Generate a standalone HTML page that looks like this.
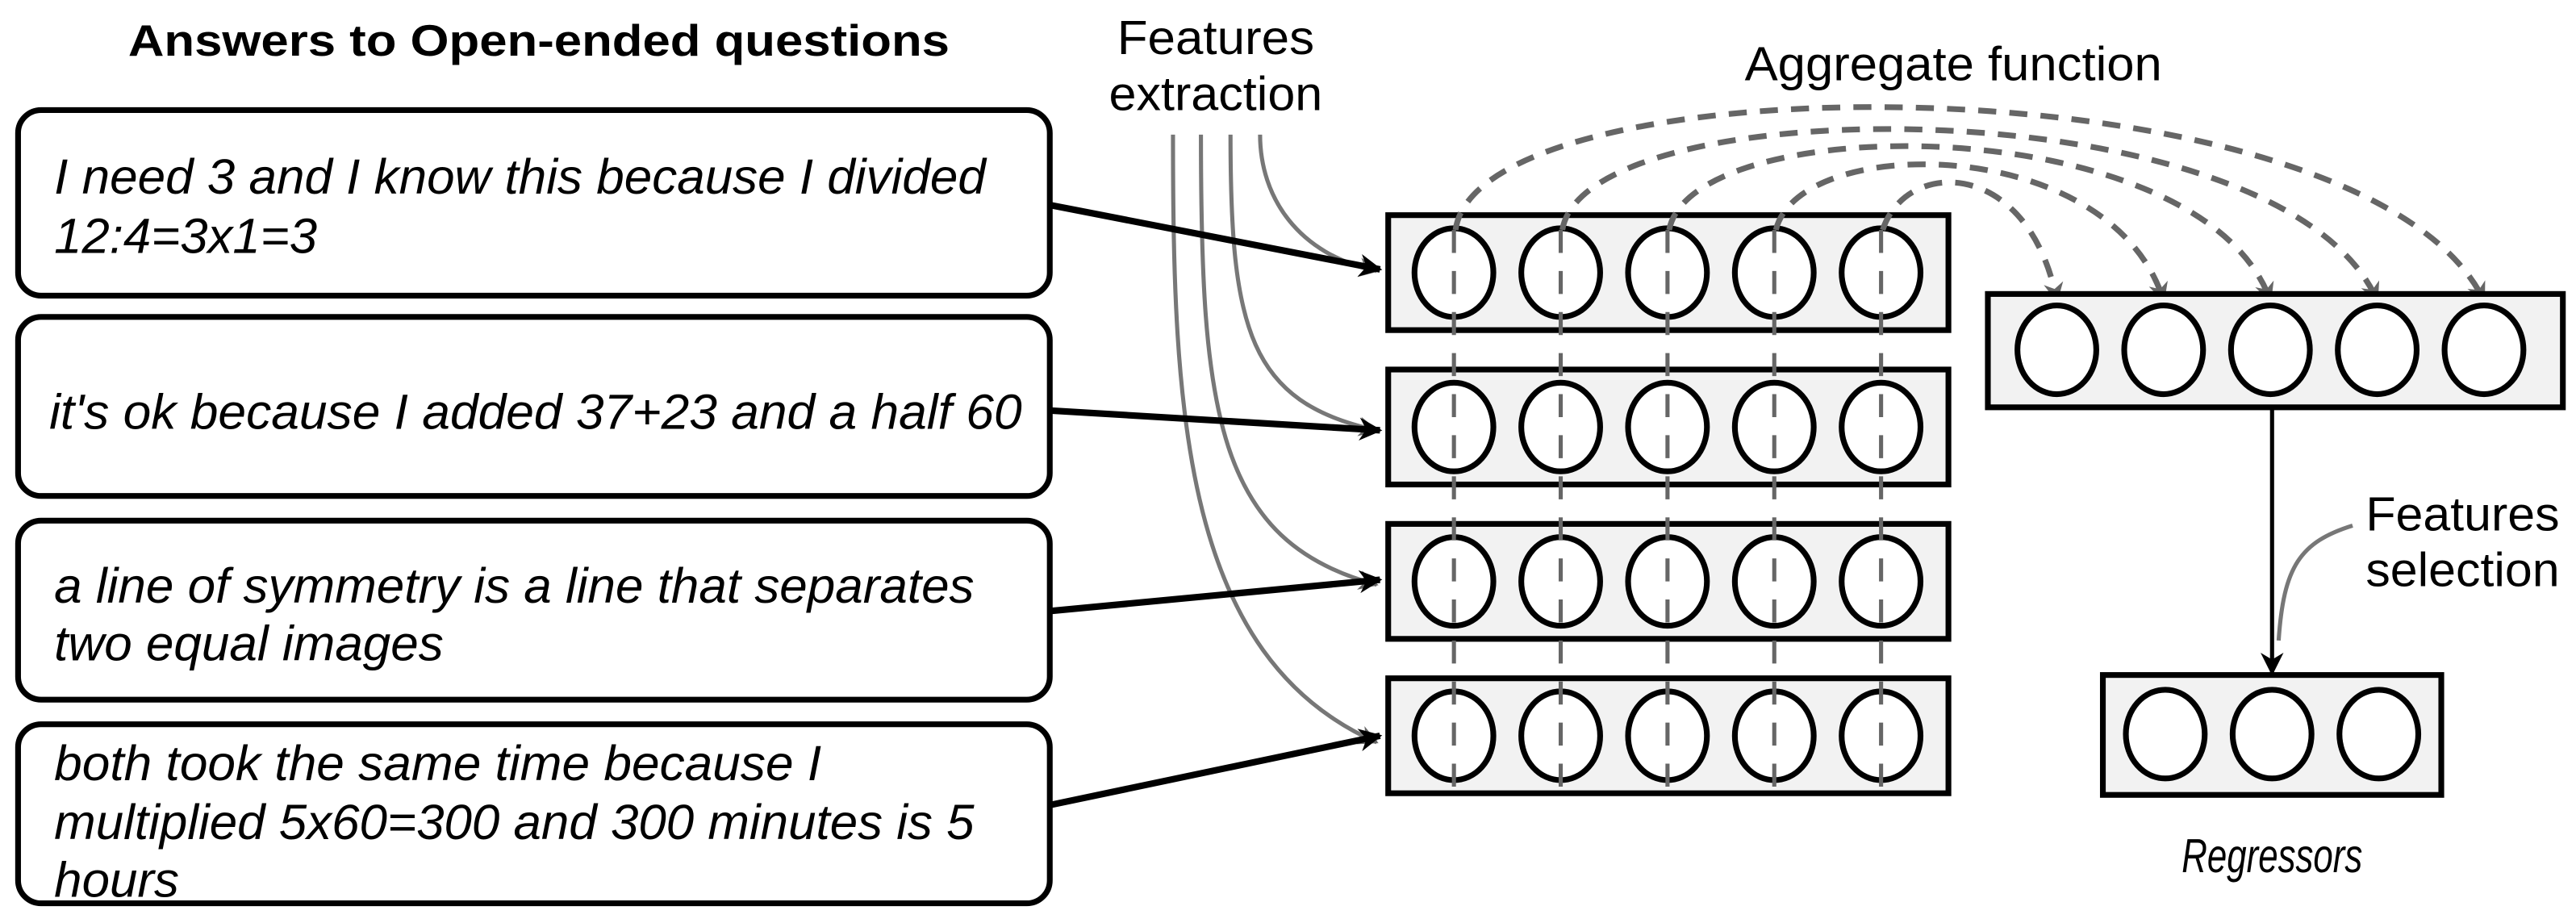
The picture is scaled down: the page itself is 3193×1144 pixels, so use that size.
<!DOCTYPE html>
<html><head><style>
html,body{margin:0;padding:0;background:#fff;}
svg{display:block;}
text{font-family:"Liberation Sans",Arial,sans-serif;}
</style></head><body>
<svg width="3193" height="1144" viewBox="0 0 1568 562" preserveAspectRatio="none" xmlns="http://www.w3.org/2000/svg">
<defs>
<marker id="abk" viewBox="0 0 10 10" refX="9" refY="5" markerWidth="18" markerHeight="14" orient="auto" markerUnits="userSpaceOnUse"><path d="M0,0 L10,5 L0,10 L3,5 Z" fill="#000"/></marker>
<marker id="ag" viewBox="0 0 10 10" refX="9" refY="5" markerWidth="14" markerHeight="12" orient="auto" markerUnits="userSpaceOnUse"><path d="M0,0 L10,5 L0,10 L3,5 Z" fill="#666"/></marker>
</defs>

<text x="78" y="34" font-size="27" font-weight="bold" textLength="500" lengthAdjust="spacingAndGlyphs">Answers to Open-ended questions</text>

<g fill="#fff" stroke="#000" stroke-width="3.5">
<rect x="11" y="67" width="628" height="113" rx="14"/>
<rect x="11" y="193" width="628" height="109" rx="14"/>
<rect x="11" y="317" width="628" height="109" rx="14"/>
<rect x="11" y="441" width="628" height="109" rx="14"/>
</g>
<g font-size="30" font-style="italic">
<text x="33" y="118" textLength="567" lengthAdjust="spacingAndGlyphs">I need 3 and I know this because I divided</text>
<text x="33" y="154" textLength="160" lengthAdjust="spacingAndGlyphs">12:4=3x1=3</text>
<text x="30" y="261" textLength="592" lengthAdjust="spacingAndGlyphs">it's ok because I added 37+23 and a half 60</text>
<text x="33" y="367" textLength="560" lengthAdjust="spacingAndGlyphs">a line of symmetry is a line that separates</text>
<text x="33" y="402" textLength="237" lengthAdjust="spacingAndGlyphs">two equal images</text>
<text x="33" y="475" textLength="467" lengthAdjust="spacingAndGlyphs">both took the same time because I</text>
<text x="33" y="511" textLength="560" lengthAdjust="spacingAndGlyphs">multiplied 5x60=300 and 300 minutes is 5</text>
<text x="33" y="546" textLength="76" lengthAdjust="spacingAndGlyphs">hours</text>
</g>

<text x="680" y="33" font-size="29" textLength="120" lengthAdjust="spacingAndGlyphs">Features</text>
<text x="675" y="67" font-size="29" textLength="130" lengthAdjust="spacingAndGlyphs">extraction</text>
<text x="1062" y="49" font-size="29" textLength="254" lengthAdjust="spacingAndGlyphs">Aggregate function</text>

<g fill="none" stroke="#777" stroke-width="2.5">
<path d="M714,82 C714,250 720,400 838,452" marker-end="url(#ag)"/>
<path d="M731,82 C731,250 740,330 838,356" marker-end="url(#ag)"/>
<path d="M749,82 C749,200 760,245 838,262" marker-end="url(#ag)"/>
<path d="M767,82 C767,120 790,155 838,165" marker-end="url(#ag)"/>
</g>

<g fill="#f2f2f2" stroke="#000" stroke-width="3.5">
<rect x="845" y="131" width="341" height="70"/>
<rect x="845" y="225" width="341" height="70"/>
<rect x="845" y="319" width="341" height="70"/>
<rect x="845" y="413" width="341" height="70"/>
</g>
<g fill="#fff" stroke="#000" stroke-width="3.5">
<ellipse cx="885" cy="166" rx="24" ry="27"/><ellipse cx="950" cy="166" rx="24" ry="27"/><ellipse cx="1015" cy="166" rx="24" ry="27"/><ellipse cx="1080" cy="166" rx="24" ry="27"/><ellipse cx="1145" cy="166" rx="24" ry="27"/>
<ellipse cx="885" cy="260" rx="24" ry="27"/><ellipse cx="950" cy="260" rx="24" ry="27"/><ellipse cx="1015" cy="260" rx="24" ry="27"/><ellipse cx="1080" cy="260" rx="24" ry="27"/><ellipse cx="1145" cy="260" rx="24" ry="27"/>
<ellipse cx="885" cy="354" rx="24" ry="27"/><ellipse cx="950" cy="354" rx="24" ry="27"/><ellipse cx="1015" cy="354" rx="24" ry="27"/><ellipse cx="1080" cy="354" rx="24" ry="27"/><ellipse cx="1145" cy="354" rx="24" ry="27"/>
<ellipse cx="885" cy="448" rx="24" ry="27"/><ellipse cx="950" cy="448" rx="24" ry="27"/><ellipse cx="1015" cy="448" rx="24" ry="27"/><ellipse cx="1080" cy="448" rx="24" ry="27"/><ellipse cx="1145" cy="448" rx="24" ry="27"/>
</g>
<g stroke="#666" stroke-width="2.5" stroke-dasharray="14,11">
<line x1="885" y1="140" x2="885" y2="480"/><line x1="950" y1="140" x2="950" y2="480"/><line x1="1015" y1="140" x2="1015" y2="480"/><line x1="1080" y1="140" x2="1080" y2="480"/><line x1="1145" y1="140" x2="1145" y2="480"/>
</g>

<g stroke="#000" stroke-width="4" fill="none">
<line x1="640" y1="125" x2="840" y2="164" marker-end="url(#abk)"/>
<line x1="640" y1="250" x2="840" y2="262" marker-end="url(#abk)"/>
<line x1="640" y1="372" x2="840" y2="353" marker-end="url(#abk)"/>
<line x1="640" y1="490" x2="840" y2="448" marker-end="url(#abk)"/>
</g>

<g fill="none" stroke="#666" stroke-width="3.5" stroke-dasharray="11,8">
<path d="M886,140 C900,34 1440,34 1512,183" marker-end="url(#ag)"/>
<path d="M951,140 C965,52 1390,52 1447,183" marker-end="url(#ag)"/>
<path d="M1016,140 C1030,66 1340,66 1382,183" marker-end="url(#ag)"/>
<path d="M1081,140 C1095,81 1285,81 1317,183" marker-end="url(#ag)"/>
<path d="M1146,140 C1160,96 1235,96 1252,183" marker-end="url(#ag)"/>
</g>

<rect x="1210" y="179" width="350" height="69" fill="#f2f2f2" stroke="#000" stroke-width="3.5"/>
<g fill="#fff" stroke="#000" stroke-width="3.5">
<ellipse cx="1252" cy="213" rx="24" ry="27"/><ellipse cx="1317" cy="213" rx="24" ry="27"/><ellipse cx="1382" cy="213" rx="24" ry="27"/><ellipse cx="1447" cy="213" rx="24" ry="27"/><ellipse cx="1512" cy="213" rx="24" ry="27"/>
</g>

<line x1="1383" y1="248" x2="1383" y2="410" stroke="#000" stroke-width="2.5" marker-end="url(#abk)"/>
<path d="M1432,320 C1400,330 1390,345 1387,390" fill="none" stroke="#777" stroke-width="2.5"/>
<text x="1440" y="323" font-size="29" textLength="118" lengthAdjust="spacingAndGlyphs">Features</text>
<text x="1440" y="357" font-size="29" textLength="118" lengthAdjust="spacingAndGlyphs">selection</text>

<rect x="1280" y="411" width="206" height="73" fill="#f2f2f2" stroke="#000" stroke-width="3.5"/>
<g fill="#fff" stroke="#000" stroke-width="3.5">
<ellipse cx="1318" cy="447" rx="24" ry="27"/><ellipse cx="1383" cy="447" rx="24" ry="27"/><ellipse cx="1448" cy="447" rx="24" ry="27"/>
</g>
<text x="1328" y="531" font-size="29" font-style="italic" textLength="110" lengthAdjust="spacingAndGlyphs">Regressors</text>
</svg>
</body></html>
